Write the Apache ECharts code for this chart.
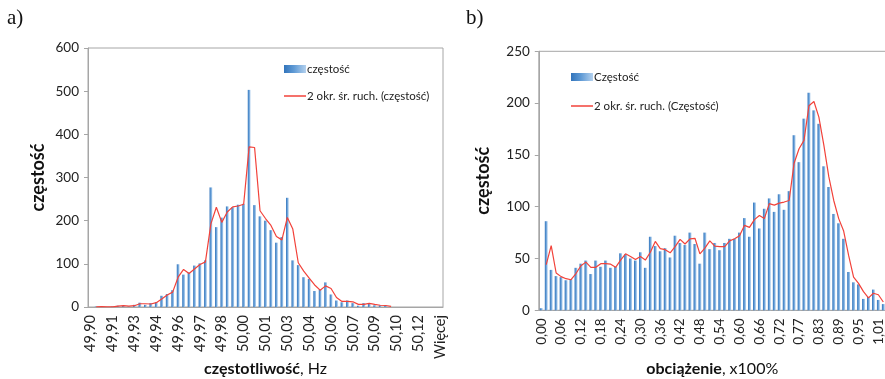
<!DOCTYPE html>
<html>
<head>
<meta charset="utf-8">
<script src="https://cdn.jsdelivr.net/npm/echarts@6/dist/echarts.min.js"></script>
<style>
html,body{margin:0;padding:0;background:#fff;}
#c{width:885px;height:379px;}
</style>
</head>
<body>
<div id="c"></div>
<script>
// ---- Chart a) : frequency histogram ----
const freqCategories = [
"49,90","49,90","49,90","49,91","49,91","49,92","49,92","49,92","49,93","49,93",
"49,93","49,94","49,94","49,94","49,95","49,95","49,96","49,96","49,96","49,97",
"49,97","49,97","49,98","49,98","49,98","49,99","49,99","50,00","50,00","50,00",
"50,01","50,01","50,01","50,02","50,02","50,02","50,03","50,03","50,04","50,04",
"50,04","50,05","50,05","50,05","50,06","50,06","50,06","50,07","50,07","50,08",
"50,08","50,08","50,09","50,09","50,09","50,10","50,10","50,10","50,11","50,11",
"50,12","50,12","50,12","50,13","Więcej"];
const freqCounts = [
0,1,1,0,1,3,3,1,5,10,
5,9,11,26,30,39,99,75,80,96,
101,108,277,185,207,233,231,237,239,503,
236,210,200,178,149,162,253,108,97,69,
65,37,41,57,29,15,11,15,9,3,
9,8,4,4,3,0,0,0,0,0,
0,0,0,0,0];
const freqMovingAvg = [
null,0.5,1,0.5,0.5,2,3,2,3,7.5,
7.5,7,10,18.5,28,34.5,69,87,77.5,88,
98.5,104.5,192.5,231,196,220,232,234,238,371,
369.5,223,205,189,163.5,155.5,207.5,180.5,102.5,83,
67,51,39,49,43,22,13,13,12,6,
6,8.5,6,4,3.5,1.5,null,null,null,null,
null,null,null,null,null];
const freqYTicks = {min:0, max:600, interval:100};

// ---- Chart b) : load histogram ----
const loadCategories = [
"0,00","0,02","0,03","0,05","0,06","0,08","0,09","0,11","0,12","0,14",
"0,15","0,16","0,18","0,19","0,21","0,22","0,24","0,25","0,27","0,28",
"0,30","0,31","0,33","0,34","0,36","0,37","0,39","0,40","0,42","0,43",
"0,45","0,46","0,48","0,49","0,51","0,52","0,54","0,55","0,57","0,58",
"0,60","0,61","0,63","0,64","0,66","0,67","0,69","0,70","0,72","0,73",
"0,74","0,76","0,77","0,79","0,80","0,82","0,83","0,85","0,86","0,88",
"0,89","0,91","0,92","0,94","0,95","0,97","0,98","1,00","1,01","1,03"];
const loadCounts = [
2,86,39,33,32,29,30,41,45,48,
35,48,42,48,41,42,55,54,50,48,
56,41,71,62,57,60,51,72,65,63,
75,64,45,75,59,65,58,65,69,69,
75,89,71,104,79,98,108,95,112,97,
115,169,143,185,210,193,180,139,119,93,
84,69,37,27,25,11,13,20,10,6];
const loadMovingAvg = [
null,44,62.5,36,32.5,30.5,29.5,35.5,43,46.5,
41.5,41.5,45,45,44.5,41.5,48.5,54.5,52,49,
52,48.5,56,66.5,59.5,58.5,55.5,61.5,68.5,64,
69,69.5,54.5,60,67,62,61.5,61.5,67,69,
72,82,80,87.5,91.5,88.5,103,101.5,103.5,104.5,
106,142,156,164,197.5,201.5,186.5,159.5,129,106,
88.5,76.5,53,32,26,18,12,16.5,15,8];
const loadYTicks = {min:0, max:250, interval:50};

const FONT = 'Lato';
const barGrad = new echarts.graphic.LinearGradient(0,0,1,0,[
  {offset:0,color:'#3274bb'},{offset:0.45,color:'#5f9ad5'},{offset:1,color:'#b4d1ee'}]);
const lineColor = '#f2423a';
const axisGray = '#a6a6a6';

function xAxisCfg(gridIndex, cats, nameRich, gap, fs){
  return {
    type:'category', gridIndex, data:cats, boundaryGap:true,
    axisLine:{lineStyle:{color:axisGray}},
    axisTick:{interval:0, length:4, lineStyle:{color:axisGray}},
    axisLabel:{interval:3, rotate:90, color:'#222', fontFamily:FONT, fontSize:fs, margin:8},
    name:nameRich, nameLocation:'middle', nameGap:gap, nameMoveOverlap:false,
    nameTextStyle:{rich:{
      b:{fontFamily:FONT,fontSize:16,fontWeight:'bold',color:'#111'},
      n:{fontFamily:FONT,fontSize:16,color:'#111'}}}
  };
}
function yAxisCfg(gridIndex, t, gap){
  return {
    type:'value', gridIndex, min:t.min, max:t.max, interval:t.interval,
    splitLine:{show:false},
    axisLine:{show:true, lineStyle:{color:axisGray}},
    axisTick:{show:true, length:4, lineStyle:{color:axisGray}},
    axisLabel:{color:'#222', fontFamily:FONT, fontSize:13.5, margin:9},
    name:'częstość', nameLocation:'middle', nameGap:gap, nameRotate:90, nameMoveOverlap:false,
    nameTextStyle:{fontFamily:FONT,fontSize:18,fontWeight:'bold',color:'#111'}
  };
}
const legendText = {fontFamily:FONT,fontSize:11.5,color:'#222',padding:[0,0,0,-4]};

const chart = echarts.init(document.getElementById('c'), null, {renderer:'canvas'});
chart.setOption({
  animation:false,
  backgroundColor:'#fff',
  graphic:[
    {type:'text', left:7, top:8, style:{text:'a)', font:'21px "Liberation Serif"', fill:'#111'}},
    {type:'text', left:466, top:8, style:{text:'b)', font:'21px "Liberation Serif"', fill:'#111'}}
  ],
  grid:[
    {left:88, top:48, width:355, height:259, show:true, borderColor:axisGray, borderWidth:1,
     containLabel:false, outerBoundsMode:'none'},
    {left:538.8, top:51.3, width:347, height:259, show:true, borderColor:axisGray, borderWidth:1,
     containLabel:false, outerBoundsMode:'none'}
  ],
  legend:[
    {data:[{name:'częstość', icon:'rect'}], left:279, top:58, itemWidth:22, itemHeight:8, itemGap:4,
     textStyle:legendText},
    {data:[{name:'2 okr. śr. ruch. (częstość)', icon:'path://M0,0L22,0L22,1.5L0,1.5Z'}], left:279, top:85, itemWidth:22, itemHeight:2,
     textStyle:legendText},
    {data:[{name:'Częstość', icon:'rect'}], left:566, top:66, itemWidth:22, itemHeight:8,
     textStyle:legendText},
    {data:[{name:'2 okr. śr. ruch. (Częstość)', icon:'path://M0,0L22,0L22,1.5L0,1.5Z'}], left:566, top:95, itemWidth:22, itemHeight:2,
     textStyle:legendText}
  ],
  xAxis:[
    xAxisCfg(0, freqCategories, '{b|częstotliwość}{n|, Hz}', 54, 14.5),
    xAxisCfg(1, loadCategories, '{b|obciążenie}{n|, x100%}', 51, 13.5)
  ],
  yAxis:[
    yAxisCfg(0, freqYTicks, 41),
    yAxisCfg(1, loadYTicks, 47)
  ],
  series:[
    {name:'częstość', type:'bar', xAxisIndex:0, yAxisIndex:0, data:freqCounts, barWidth:'50%',
     itemStyle:{color:barGrad}},
    {name:'2 okr. śr. ruch. (częstość)', type:'line', xAxisIndex:0, yAxisIndex:0, data:freqMovingAvg,
     showSymbol:false, symbol:'none', connectNulls:false, lineStyle:{color:lineColor,width:1.2}, itemStyle:{color:lineColor}},
    {name:'Częstość', type:'bar', xAxisIndex:1, yAxisIndex:1, data:loadCounts, barWidth:'58%',
     itemStyle:{color:barGrad}},
    {name:'2 okr. śr. ruch. (Częstość)', type:'line', xAxisIndex:1, yAxisIndex:1, data:loadMovingAvg,
     showSymbol:false, symbol:'none', lineStyle:{color:lineColor,width:1.2}, itemStyle:{color:lineColor}}
  ]
});
</script>
</body>
</html>
